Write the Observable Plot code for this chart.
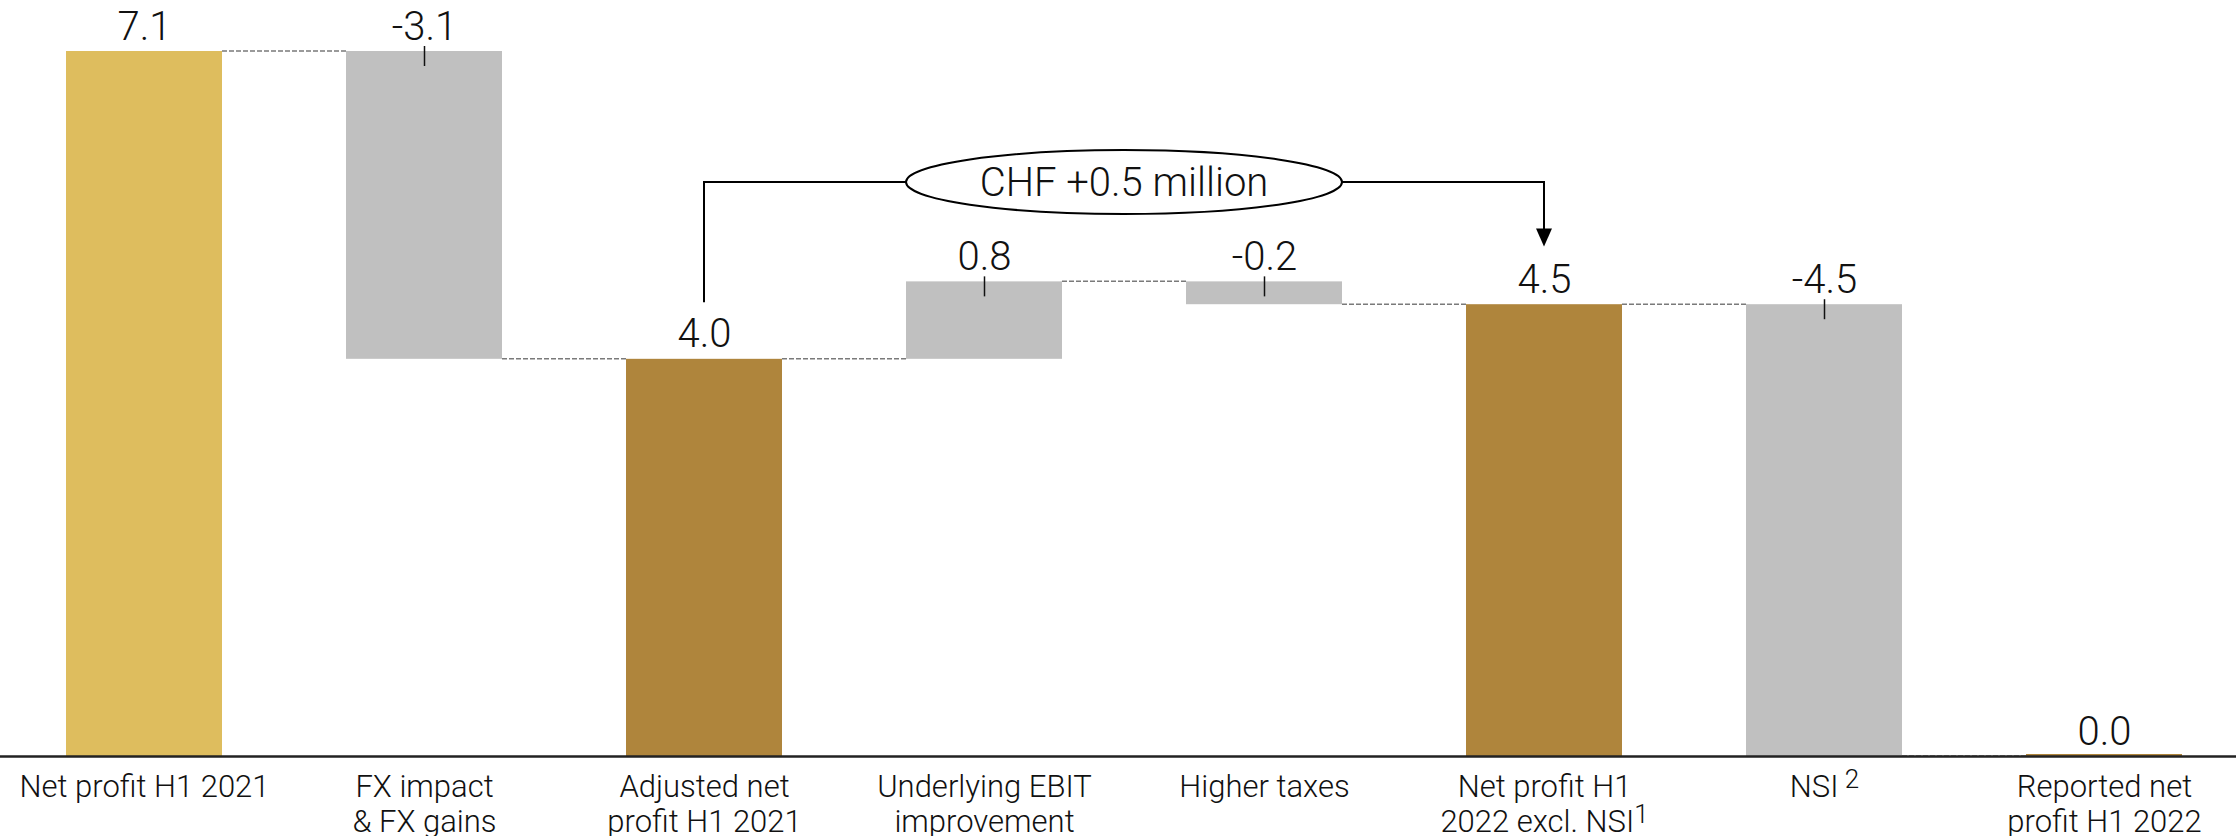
<!DOCTYPE html>
<html>
<head>
<meta charset="utf-8">
<script src="https://cdn.jsdelivr.net/npm/d3@7"></script>
<script src="https://cdn.jsdelivr.net/npm/@observablehq/plot@0.6"></script>
<style>
  html, body { margin: 0; padding: 0; background: #fff; }
  #chart svg { display: block; }
</style>
</head>
<body>
<div id="chart"></div>
<script>
// ---- data ----
const categories = [
  "Net profit H1 2021",
  "FX impact\n& FX gains",
  "Adjusted net\nprofit H1 2021",
  "Underlying EBIT\nimprovement",
  "Higher taxes",
  "Net profit H1\n2022 excl. NSI",
  "NSI",
  "Reported net\nprofit H1 2022"
];
const superscripts = ["", "", "", "", "", "1", " 2", ""];
const kinds = ["start", "delta", "total", "delta", "delta", "total", "delta", "total"];
const values = [7.1, -3.1, 4.0, 0.78, -0.23, 4.55, -4.55, 0.0];
const valueLabels = ["7.1", "-3.1", "4.0", "0.8", "-0.2", "4.5", "-4.5", "0.0"];
const annotationText = "CHF +0.5 million";
const annotationFrom = 2;
const annotationTo = 5;

// ---- build waterfall rows ----
let level = 0;
const rows = categories.map((c, i) => {
  let y1, y2;
  if (kinds[i] === "delta") { y1 = level; y2 = level + values[i]; }
  else { y1 = 0; y2 = values[i]; }
  level = y2;
  return { cat: c, kind: kinds[i], y1, y2, top: Math.max(y1, y2), level: y2, label: valueLabels[i], sup: superscripts[i], i };
});

const colors = { start: "#DEBD5E", total: "#AF853C", delta: "#C0C0C0" };
const FONT = "Roboto, 'Noto Sans', sans-serif";

// annotation geometry in data units
const bracketLevel = 5.78, leftEnd = 4.57, rightEnd = 5.13;

function connectors(index, scales) {
  const sx = scales.x, sy = scales.y;
  const bw = sx.bandwidth();
  const g = d3.create("svg:g");
  for (let i = 0; i < rows.length - 1; i++) {
    const y = sy(rows[i].level);
    g.append("line")
      .attr("x1", sx(rows[i].cat) + bw).attr("x2", sx(rows[i + 1].cat))
      .attr("y1", y).attr("y2", y)
      .attr("stroke", "#7a7a7a").attr("stroke-width", 1.5)
      .attr("stroke-dasharray", "5,2");
  }
  return g.node();
}

function annotation(index, scales) {
  const sx = scales.x, sy = scales.y;
  const bw = sx.bandwidth();
  const xl = sx(rows[annotationFrom].cat) + bw / 2;
  const xr = sx(rows[annotationTo].cat) + bw / 2;
  const yb = sy(bracketLevel);
  const yl = sy(leftEnd);
  const yr = sy(rightEnd);
  const g = d3.create("svg:g");
  g.append("path")
    .attr("d", `M${xl},${yl}V${yb}H${xr}V${yr - 17}`)
    .attr("fill", "none").attr("stroke", "#000").attr("stroke-width", 2);
  g.append("path")
    .attr("d", `M${xr - 8},${yr - 18}L${xr + 8},${yr - 18}L${xr},${yr}Z`)
    .attr("fill", "#000");
  const cx = (sx(categories[3]) + sx(categories[4])) / 2 + bw / 2;
  g.append("ellipse")
    .attr("cx", cx).attr("cy", yb).attr("rx", 218).attr("ry", 32)
    .attr("fill", "#fff").attr("stroke", "#000").attr("stroke-width", 2);
  g.append("text")
    .attr("x", cx).attr("y", yb + 14)
    .attr("text-anchor", "middle")
    .attr("font-family", FONT).attr("font-weight", 300).attr("font-size", 40)
    .attr("fill", "#111")
    .text(annotationText);
  return g.node();
}

const deltaRows = rows.filter(d => d.kind === "delta");

const chart = Plot.plot({
  width: 2236,
  height: 836,
  marginLeft: 0,
  marginRight: 0,
  marginTop: 51,
  marginBottom: 80,
  x: { domain: categories, range: [38, 2210], paddingInner: 0.443, paddingOuter: 0.1, axis: null },
  y: { domain: [0, 7.1], axis: null },
  style: { fontFamily: FONT, background: "#fff" },
  marks: [
    Plot.barY(rows.filter(d => d.y1 !== d.y2), { x: "cat", y1: "y1", y2: "y2", fill: d => colors[d.kind] }),
    Plot.barY(rows.filter(d => d.y1 === d.y2), { x: "cat", y1: "y1", y2: "y2", fill: d => colors[d.kind], insetTop: -2 }),
    connectors,
    Plot.ruleY([0], { stroke: "#222", strokeWidth: 2.5 }),
    Plot.ruleX(deltaRows, { x: "cat", y1: "top", y2: "top", insetTop: -5, insetBottom: -15, stroke: "#111", strokeWidth: 1.5 }),
    Plot.text(rows, {
      x: "cat", y: "top", text: "label", dy: -12, lineAnchor: "bottom",
      fontSize: 40, fontWeight: 300, fill: "#111"
    }),
    Plot.text(rows, {
      x: "cat", y: 0, text: "cat", dy: 16, lineAnchor: "top", lineHeight: 1.13,
      fontSize: 31, fontWeight: 300, fill: "#111"
    }),
    annotation
  ]
});

// superscripts on category labels
const flat = categories.map(c => c.replace(/\n/g, ""));
d3.select(chart).selectAll("text").each(function () {
  const k = flat.indexOf(this.textContent);
  if (k < 0 || !superscripts[k]) return;
  const t = d3.select(this);
  const tspans = t.selectAll("tspan");
  const target = tspans.empty() ? t : d3.select(tspans.nodes()[tspans.size() - 1]);
  target.append("tspan").attr("font-size", 26).attr("dy", -9).text(superscripts[k]);
});

document.getElementById("chart").appendChild(chart);
</script>
</body>
</html>
